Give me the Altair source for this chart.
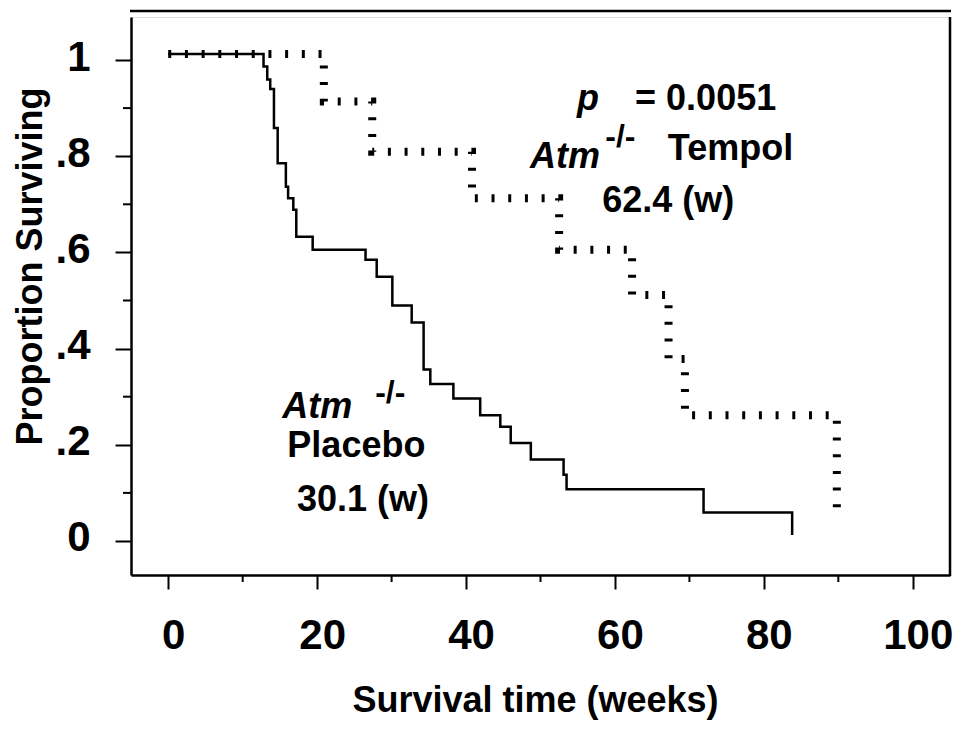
import altair as alt
import pandas as pd

# ---- data ----
placebo_weeks = [0, 12.8, 13.3, 13.7, 14.2, 14.7, 15.8, 16.1, 16.8, 17.2, 19.4, 26.5, 28.0,
                 30.1, 32.7, 34.3, 35.2, 38.3, 41.9, 44.6, 46.0, 48.7, 53.1, 53.5, 71.9, 83.8]
placebo_surv = [1.0, 0.974, 0.947, 0.927, 0.846, 0.773, 0.724, 0.700, 0.676, 0.620, 0.593, 0.572, 0.537,
                0.477, 0.442, 0.344, 0.314, 0.284, 0.249, 0.225, 0.191, 0.157, 0.125, 0.095, 0.047, 0.0]

tempol_weeks = [0, 20.9, 27.4, 40.8, 52.5, 62.3, 67.2, 69.4, 89.8]
tempol_surv = [1.0, 0.901, 0.797, 0.700, 0.593, 0.499, 0.366, 0.249, 0.04]

x_major = [0, 20, 40, 60, 80, 100]
x_minor = [10, 30, 50, 70, 90]
y_major = [0, 0.2, 0.4, 0.6, 0.8, 1.0]
y_minor = [0.1, 0.3, 0.5, 0.7, 0.9]

# annotations: text, anchor (weeks, proportion)
ann_italic_text = ["p", "Atm", "Atm"]
ann_italic_week = [54.9, 48.6, 15.3]
ann_italic_surv = [0.896, 0.775, 0.256]

ann_plain_text = ["= 0.0051", "Tempol", "62.4 (w)", "Placebo", "30.1 (w)"]
ann_plain_week = [62.7, 67.1, 58.3, 16.0, 17.3]
ann_plain_surv = [0.896, 0.792, 0.685, 0.175, 0.062]

ann_sup_text = ["-/-", "-/-"]
ann_sup_week = [58.7, 27.8]
ann_sup_surv = [0.819, 0.287]

# ---- layout ----
W, H = 819, 558
F = "Liberation Sans"

xs = alt.Scale(domain=[-5, 105], nice=False, zero=False)
ys = alt.Scale(domain=[-0.0707, 1.0894], nice=False, zero=False)

x_axis = alt.Axis(
    values=x_major, title="Survival time (weeks)", grid=False,
    domain=True, domainColor="black", domainWidth=2.5,
    ticks=True, tickColor="black", tickWidth=2, tickSize=14,
    labelFont=F, labelFontSize=42, labelFontWeight="bold", labelColor="black",
    labelPadding=26, labelOffset=5, labelFlush=False, labelOverlap=False,
    titleFont=F, titleFontSize=36, titleFontWeight="bold", titleColor="black",
    titleX=404, titleY=136, titleAlign="center", titleBaseline="alphabetic",
)
y_axis = alt.Axis(
    values=y_major, title="Proportion Surviving", grid=False,
    labelExpr="datum.value == 0 ? '0' : datum.value == 1 ? '1' : replace(format(datum.value, '.1f'), '0.', '.')",
    domain=True, domainColor="black", domainWidth=2.5,
    ticks=True, tickColor="black", tickWidth=2, tickSize=16,
    labelFont=F, labelFontSize=42, labelFontWeight="bold", labelColor="black",
    labelPadding=25, labelOffset=-3, labelFlush=False, labelOverlap=False,
    labelAlign="right", labelBaseline="middle",
    titleFont=F, titleFontSize=36, titleFontWeight="bold", titleColor="black",
    titleX=-90, titleY=249, titleAngle=270, titleAlign="center", titleBaseline="alphabetic",
)

X = lambda: alt.X("week:Q", scale=xs, axis=x_axis)
Y = lambda: alt.Y("surv:Q", scale=ys, axis=y_axis)

placebo_df = pd.DataFrame({"week": placebo_weeks, "surv": placebo_surv})
tempol_df = pd.DataFrame({"week": tempol_weeks, "surv": tempol_surv})

placebo = alt.Chart(placebo_df).mark_line(
    interpolate="step-after", color="black", strokeWidth=2.5, yOffset=-6
).encode(x=X(), y=Y())

tempol = alt.Chart(tempol_df).mark_line(
    interpolate="step-after", color="black", strokeWidth=8, strokeDash=[3, 13.7], yOffset=-6
).encode(x=X(), y=Y())

# minor ticks drawn through the scales
xminor = alt.Chart(pd.DataFrame({"week": x_minor})).mark_rule(color="black", strokeWidth=2).encode(
    x=X(), y=alt.value(H), y2=alt.value(H + 7)
)
yminor = alt.Chart(pd.DataFrame({"surv": y_minor})).mark_rule(color="black", strokeWidth=2).encode(
    y=Y(), x=alt.value(-8), x2=alt.value(0)
)

# frame pieces: right border and the detached top line
right_line = alt.Chart(pd.DataFrame({"a": [0]})).mark_rule(color="black", strokeWidth=2.5).encode(
    x=alt.value(W), y=alt.value(0), y2=alt.value(H + 1)
)
top_line = alt.Chart(pd.DataFrame({"a": [0]})).mark_rule(color="black", strokeWidth=2.5).encode(
    x=alt.value(-1), x2=alt.value(W + 1), y=alt.value(-6)
)

italic_txt = alt.Chart(pd.DataFrame({"t": ann_italic_text, "week": ann_italic_week, "surv": ann_italic_surv})).mark_text(
    font=F, fontSize=36, fontWeight="bold", fontStyle="italic", align="left", baseline="alphabetic", color="black"
).encode(x=X(), y=Y(), text="t:N")

plain_txt = alt.Chart(pd.DataFrame({"t": ann_plain_text, "week": ann_plain_week, "surv": ann_plain_surv})).mark_text(
    font=F, fontSize=36, fontWeight="bold", align="left", baseline="alphabetic", color="black"
).encode(x=X(), y=Y(), text="t:N")

sup_txt = alt.Chart(pd.DataFrame({"t": ann_sup_text, "week": ann_sup_week, "surv": ann_sup_surv})).mark_text(
    font=F, fontSize=32, fontWeight="bold", align="left", baseline="alphabetic", color="black"
).encode(x=X(), y=Y(), text="t:N")

chart = alt.layer(
    placebo, tempol, xminor, yminor, right_line, top_line, italic_txt, plain_txt, sup_txt
).properties(
    width=W, height=H,
    autosize=alt.AutoSizeParams(type="none"),
    padding={"left": 123, "top": 9, "right": 7, "bottom": 145},
).configure_view(stroke=None).configure(background="white")

chart.save("out.html", embed_options={"renderer": "svg", "actions": False})
